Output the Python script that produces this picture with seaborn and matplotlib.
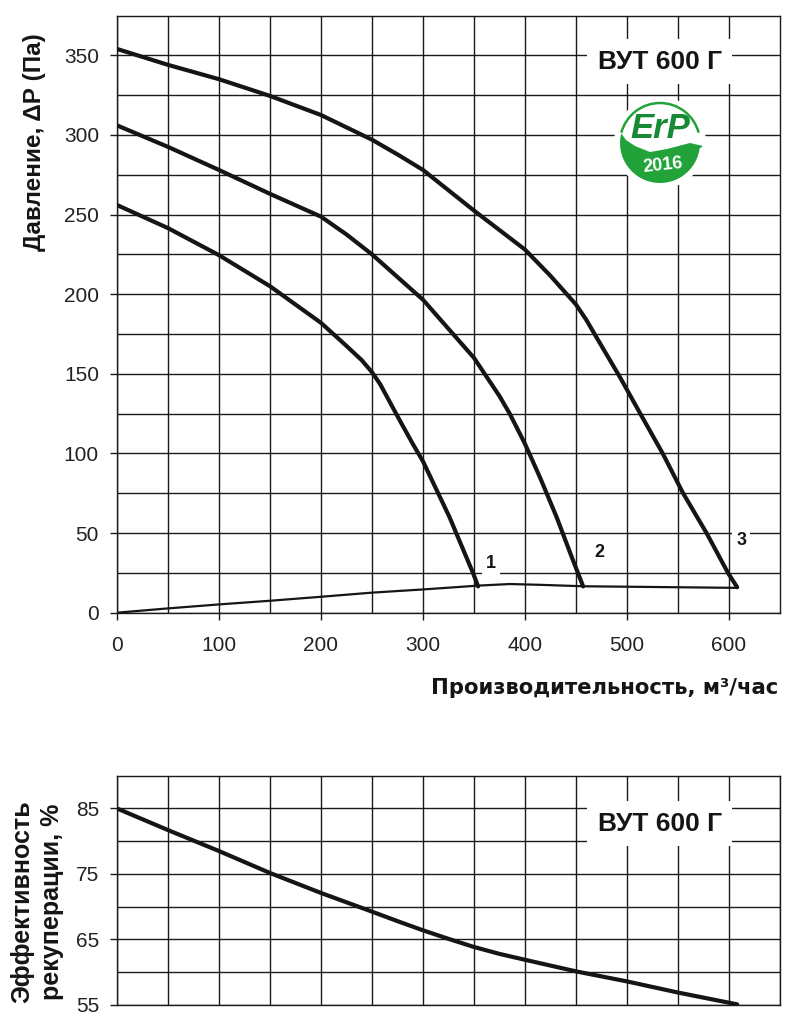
import numpy as np
import pandas as pd
import matplotlib
matplotlib.use("Agg")
import matplotlib.pyplot as plt
import seaborn as sns
from matplotlib.patches import Circle, Arc, Polygon

# ---------------- data ----------------
q1 = [0, 50, 100, 150, 200, 225, 240, 250, 258, 277, 290, 300, 326, 349, 354]
p1 = [256, 241.5, 224.5, 205, 182, 167.5, 158.5, 151, 143.5, 121, 106, 95, 60, 25, 16.5]

q2 = [0, 50, 100, 150, 200, 225, 250, 300, 350, 375, 385, 400, 415, 431, 447, 457]
p2 = [306, 292.5, 278, 263, 248.7, 237.5, 225, 196.5, 160, 136, 125, 106, 84.5, 60, 33, 16.5]

q3 = [0, 50, 100, 150, 200, 250, 277, 300, 350, 400, 425, 450, 460, 470, 493, 500,
      513, 535, 555, 578, 599, 608]
p3 = [354, 344, 335, 324.5, 312.5, 297, 287, 278, 252.5, 228, 211.5, 193.5, 184, 173,
      148, 140, 125, 100, 75, 50, 25, 16]

q_sys = [0, 50, 100, 150, 200, 250, 300, 354, 385, 415, 457, 608]
p_sys = [0, 2.7, 5.2, 7.5, 10, 12.6, 14.6, 17, 18, 17.5, 16.6, 15.6]

q_eff = [0, 50, 100, 150, 200, 250, 275, 300, 323, 349, 375, 400, 451, 500, 550, 608]
eff = [85, 81.7, 78.5, 75.15, 72.1, 69.25, 67.8, 66.4, 65.2, 63.9, 62.8, 61.9, 60.1, 58.6,
       56.9, 55.1]

curve_labels = ["1", "2", "3"]
label_q = [367, 473, 612]
label_p = [31, 38, 45.5]

x_ticks = [0, 100, 200, 300, 400, 500, 600]
p_ticks = [0, 50, 100, 150, 200, 250, 300, 350]
e_ticks = [55, 65, 75, 85]

model = "ВУТ 600 Г"
xlabel = "Производительность, м³/час"
ylabel_top = "Давление, ΔР (Па)"
ylabel_bottom = "Эффективность\nрекуперации, %"

# ---------------- style ----------------
sns.set_theme(style="white")
plt.rcParams['font.family'] = ['Liberation Sans', 'DejaVu Sans']
plt.rcParams['axes.edgecolor'] = '#1a1a1a'
plt.rcParams['axes.linewidth'] = 1.0

W, H = 800, 1025
fig = plt.figure(figsize=(W / 100, H / 100), dpi=100)
fig.patch.set_facecolor("white")

def px_rect(l, t, r, b):
    return [l / W, 1 - b / H, (r - l) / W, (b - t) / H]

ax1 = fig.add_axes(px_rect(117, 15.5, 780, 612.7))
ax2 = fig.add_axes(px_rect(117, 775.7, 780, 1005))

grid_kw = dict(color="#1a1a1a", linewidth=1.0)
line_kw = dict(sort=False, estimator=None, color="#151515", zorder=5,
               solid_capstyle="round", solid_joinstyle="round")

# ---------- top chart ----------
for q, p in [(q1, p1), (q2, p2), (q3, p3)]:
    df = pd.DataFrame({"q": q, "p": p})
    sns.lineplot(data=df, x="q", y="p", ax=ax1, linewidth=3.0, **line_kw)
df_sys = pd.DataFrame({"q": q_sys, "p": p_sys})
sns.lineplot(data=df_sys, x="q", y="p", ax=ax1, linewidth=1.6, **line_kw)

ax1.set_xlim(0, 650)
ax1.set_ylim(0, 375)
ax1.set_xticks(x_ticks)
ax1.set_xticks(np.arange(50, 650, 100), minor=True)
ax1.set_yticks(p_ticks)
ax1.set_yticks(np.arange(25, 375, 50), minor=True)
ax1.grid(True, which="both", **grid_kw)
ax1.set_axisbelow(True)
ax1.tick_params(axis="both", which="major", length=5, width=1.0, color="#1a1a1a",
                labelsize=15, labelcolor="#222222", direction="out")
ax1.tick_params(axis="y", which="major", pad=8, left=True)
ax1.tick_params(axis="x", which="major", pad=12, bottom=True)
ax1.tick_params(which="minor", length=0)
ax1.set_xlabel("")
ax1.set_ylabel("")

for lab, xq, yp in zip(curve_labels, label_q, label_p):
    ax1.text(xq, yp, lab, fontsize=13, fontweight="bold", color="#151515",
             ha="center", va="center", zorder=6,
             bbox=dict(facecolor="white", edgecolor="none", pad=3))

ax1.text(532, 346, model, fontsize=19, fontweight="bold", color="#151515",
         ha="center", va="center", zorder=6,
         bbox=dict(facecolor="white", edgecolor="none", boxstyle="square,pad=0.4"))

# ---------- bottom chart ----------
df_eff = pd.DataFrame({"q": q_eff, "e": eff})
sns.lineplot(data=df_eff, x="q", y="e", ax=ax2, linewidth=3.0, **line_kw)
ax2.set_xlim(0, 650)
ax2.set_ylim(55, 90)
ax2.set_xticks(np.arange(0, 651, 50))
ax2.set_yticks(e_ticks)
ax2.set_yticks([60, 70, 80], minor=True)
ax2.grid(True, which="both", **grid_kw)
ax2.set_axisbelow(True)
ax2.set_xticklabels([])
ax2.tick_params(axis="x", which="both", length=0)
ax2.tick_params(axis="y", which="major", length=5, width=1.0, color="#1a1a1a",
                labelsize=15, labelcolor="#222222", pad=8, left=True)
ax2.tick_params(axis="y", which="minor", length=0)
ax2.set_xlabel("")
ax2.set_ylabel("")
ax2.text(532, 82.7, model, fontsize=19, fontweight="bold", color="#151515",
         ha="center", va="center", zorder=6,
         bbox=dict(facecolor="white", edgecolor="none", boxstyle="square,pad=0.4"))

# ---------- labels ----------
fig.text(35 / W, 1 - 142 / H, ylabel_top, rotation=90, fontsize=17.5,
         fontweight="bold", color="#151515", ha="center", va="center")
fig.text(37 / W, 1 - 902 / H, ylabel_bottom, rotation=90, fontsize=18,
         fontweight="bold", color="#151515", ha="center", va="center",
         multialignment="center", linespacing=1.3)
fig.text(778 / W, 1 - 688 / H, xlabel, fontsize=15.2, fontweight="bold",
         family=["DejaVu Sans"], color="#151515", ha="right", va="center")

# ---------- ErP logo (decoration) ----------
lax = fig.add_axes(px_rect(610, 93, 710, 193))
lax.set_xlim(0, 100)
lax.set_ylim(0, 100)
lax.set_aspect("equal")
lax.axis("off")
lax.add_patch(Circle((50, 50), 46, facecolor="white", edgecolor="none", zorder=1))
green = "#22a33a"
dark_green = "#168a34"
lax.add_patch(Arc((50, 50), 80, 80, theta1=15, theta2=165, color=green, lw=1.8, zorder=2))
upper = [(11, 60), (16, 53), (25, 47), (40, 41), (57, 44), (80, 50), (93, 47)]
ang = np.radians(np.linspace(-8, -197, 40))
lower = [(50 + 40 * np.cos(a), 50 + 40 * np.sin(a)) for a in ang]
lax.add_patch(Polygon(upper + lower, closed=True, facecolor=green, edgecolor="none", zorder=2))
lax.text(50, 64, "ErP", fontsize=25, fontweight="bold", fontstyle="italic",
         color=dark_green, ha="center", va="center", zorder=3)
lax.text(53, 28, "2016", fontsize=13, fontweight="bold", color="white",
         ha="center", va="center", rotation=6, zorder=3)

fig.savefig("out.png", dpi=100, facecolor="white")
